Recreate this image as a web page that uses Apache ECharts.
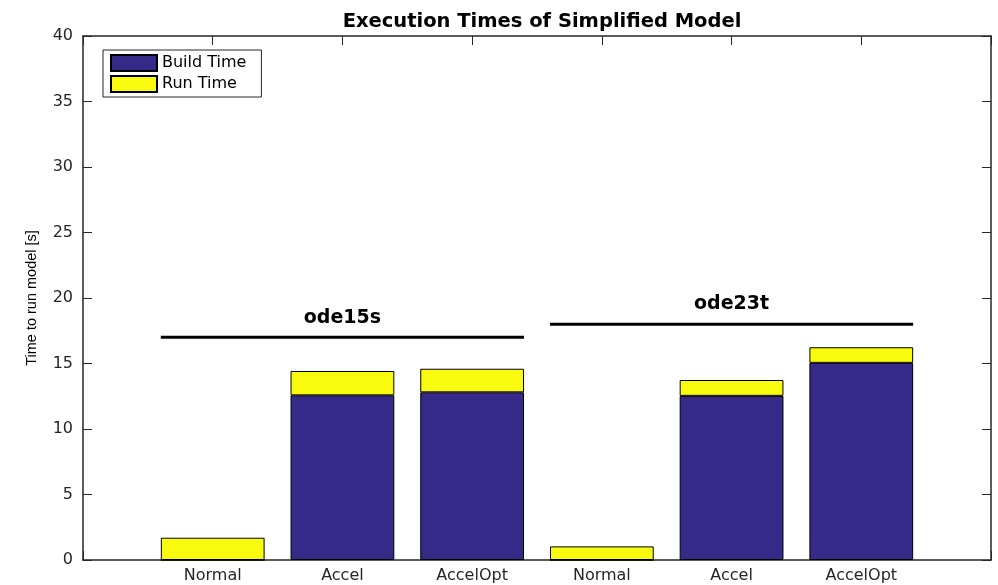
<!DOCTYPE html>
<html>
<head>
<meta charset="utf-8">
<title>Execution Times of Simplified Model</title>
<script src="https://cdn.jsdelivr.net/npm/echarts@6/dist/echarts.min.js"></script>
<style>
  html, body { margin: 0; padding: 0; background: #fff; }
  #chart { width: 998px; height: 585px; }
</style>
</head>
<body>
<div id="chart"></div>
<script>
// Bars sit at positions 1..6 of an x range running 0..7
const categories = ['Normal', 'Accel', 'AccelOpt', 'Normal', 'Accel', 'AccelOpt'];
const buildTime = [0, 12.57, 12.8, 0, 12.53, 15.05];
const runTime = [1.7, 1.86, 1.8, 1.04, 1.21, 1.19];
const yTicks = [0, 5, 10, 15, 20, 25, 30, 35, 40];

// Solver group brackets: [label, xStart, xEnd, lineY, labelX, labelY]
const groups = [
  ['ode15s', 0.6, 3.4, 17, 2, 18.5],
  ['ode23t', 3.6, 6.4, 18, 5, 19.5]
];

const grid = { left: 83, right: 7, top: 36, bottom: 25 };
const axisColor = '#262626';
const tickFont = { fontFamily: 'DejaVu Sans', fontSize: 16, color: axisColor };

// Empty slots at positions 0 and 7 pad the category axis to the 0..7 range
const xSlots = [''].concat(categories, ['']);
const pad = arr => ['-'].concat(arr, ['-']);

const chart = echarts.init(document.getElementById('chart'), null, { renderer: 'canvas' });

const series = [
  {
    name: 'Build Time',
    type: 'bar',
    stack: 'total',
    barWidth: '80%',
    data: pad(buildTime),
    itemStyle: { color: '#352a87', borderColor: '#000', borderWidth: 1 },
    silent: true
  },
  {
    name: 'Run Time',
    type: 'bar',
    stack: 'total',
    barWidth: '80%',
    data: pad(runTime),
    itemStyle: { color: '#f9fb0e', borderColor: '#000', borderWidth: 1 },
    silent: true
  }
];

groups.forEach(g => {
  series.push({
    name: g[0] + ' bracket',
    type: 'line',
    xAxisIndex: 1,
    data: [[g[1], g[3]], [g[2], g[3]]],
    symbol: 'none',
    lineStyle: { color: '#000', width: 3 },
    silent: true,
    z: 5
  });
  series.push({
    name: g[0] + ' label',
    type: 'scatter',
    xAxisIndex: 1,
    data: [{ value: [g[4], g[5]], name: g[0] }],
    symbolSize: 0,
    itemStyle: { opacity: 1 },
    label: {
      show: true,
      position: 'inside',
      formatter: p => p.name,
      fontFamily: 'DejaVu Sans',
      fontWeight: 'bold',
      fontSize: 19,
      color: '#000',
      opacity: 1
    },
    silent: true,
    z: 5
  });
});

const frameLine = { show: true, onZero: false, lineStyle: { color: axisColor, width: 1.5 } };
const innerTick = { show: true, inside: true, length: 9, lineStyle: { color: axisColor } };

chart.setOption({
  animation: false,
  backgroundColor: '#fff',
  title: {
    text: 'Execution Times of Simplified Model',
    left: (grid.left + 998 - grid.right) / 2,
    textAlign: 'center',
    top: 7,
    textStyle: { fontFamily: 'DejaVu Sans', fontWeight: 'bold', fontSize: 19.5, color: '#000' }
  },
  legend: {
    data: ['Build Time', 'Run Time'],
    orient: 'vertical',
    left: 103,
    top: 50,
    padding: [4, 15, 4, 7],
    itemWidth: 46,
    itemHeight: 16,
    itemGap: 3,
    icon: 'rect',
    borderColor: axisColor,
    borderWidth: 1,
    backgroundColor: '#fff',
    selectedMode: false,
    textStyle: { fontFamily: 'DejaVu Sans', fontSize: 16, color: '#000', lineHeight: 16 }
  },
  grid: grid,
  xAxis: [
    {
      type: 'category',
      data: xSlots,
      boundaryGap: false,
      position: 'bottom',
      splitLine: { show: false },
      axisLine: frameLine,
      axisTick: { ...innerTick, interval: 0 },
      axisLabel: { ...tickFont, margin: 8, interval: 0 }
    },
    {
      type: 'value',
      min: 0,
      max: xSlots.length - 1,
      interval: 1,
      position: 'top',
      splitLine: { show: false },
      axisLine: frameLine,
      axisTick: innerTick,
      axisLabel: { show: false }
    }
  ],
  yAxis: [
    {
      type: 'value',
      min: yTicks[0],
      max: yTicks[yTicks.length - 1],
      interval: 5,
      position: 'left',
      name: 'Time to run model [s]',
      nameLocation: 'middle',
      nameGap: 44,
      nameRotate: 90,
      nameTextStyle: { fontFamily: 'Liberation Sans', fontSize: 14.5, color: '#000' },
      splitLine: { show: false },
      axisLine: frameLine,
      axisTick: innerTick,
      axisLabel: { ...tickFont, margin: 10 }
    },
    {
      type: 'value',
      min: yTicks[0],
      max: yTicks[yTicks.length - 1],
      interval: 5,
      position: 'right',
      splitLine: { show: false },
      axisLine: frameLine,
      axisTick: innerTick,
      axisLabel: { show: false }
    }
  ],
  series: series
});
</script>
</body>
</html>
